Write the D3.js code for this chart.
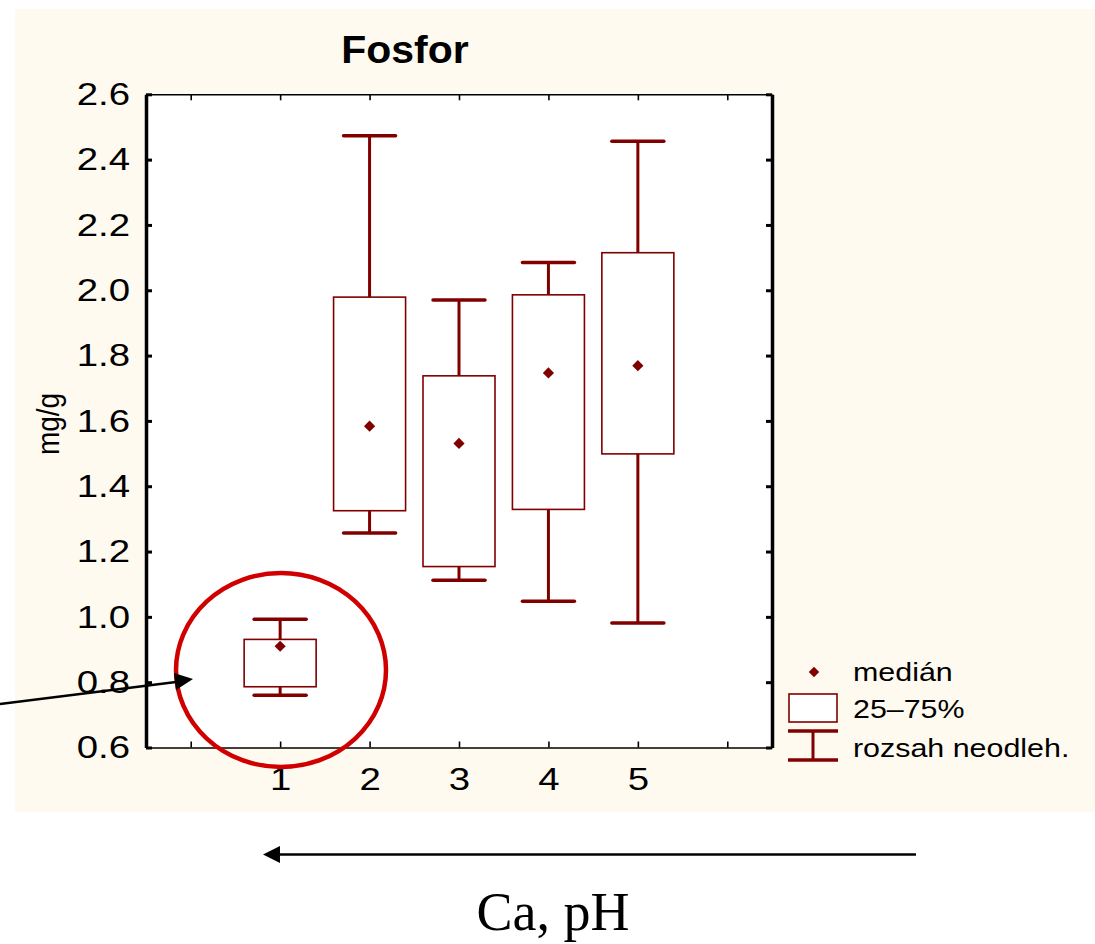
<!DOCTYPE html>
<html>
<head>
<meta charset="utf-8">
<script src="https://cdn.jsdelivr.net/npm/d3@7"></script>
<style>
  html, body { margin: 0; padding: 0; background: #ffffff; }
  svg { display: block; }
</style>
</head>
<body>
<svg id="chart" width="1095" height="944"></svg>
<script>
// ---- data ----
const categories = [1, 2, 3, 4, 5];
const whiskerLow  = [0.760, 1.257, 1.112, 1.048, 0.981];
const q25         = [0.786, 1.325, 1.154, 1.329, 1.499];
const medians     = [0.910, 1.584, 1.531, 1.747, 1.769];
const q75         = [0.931, 1.979, 1.738, 1.986, 2.115];
const whiskerHigh = [0.993, 2.473, 1.970, 2.085, 2.456];
const yTicks = [0.6, 0.8, 1.0, 1.2, 1.4, 1.6, 1.8, 2.0, 2.2, 2.4, 2.6];
const xTicks = [0, 1, 2, 3, 4, 5, 6];
const xTickLabels = ["", "1", "2", "3", "4", "5", ""];
const legendLabels = ["medián", "25–75%", "rozsah neodleh."];
const title = "Fosfor";
const yLabel = "mg/g";
const bottomLabel = "Ca, pH";

// ---- layout ----
const svg = d3.select("#chart");
const dark = "#800000";
const font = "'Liberation Sans', Arial, sans-serif";
const L = 146, R = 772, T = 94.3, B = 747.5;

const x = d3.scaleLinear().domain([-0.5, 6.5]).range([L, R]);
const y = d3.scaleLinear().domain([0.6, 2.6]).range([B, T]);

// horizontal stretch of texts about their anchor x
function stretch(sel, sx) {
  sel.each(function() {
    const t = d3.select(this);
    const x0 = +(t.attr("x") || 0);
    t.attr("transform", `translate(${x0},0) scale(${sx},1) translate(${-x0},0)`);
  });
}

// cream panel
svg.append("rect").attr("x", 15).attr("y", 9).attr("width", 1080).attr("height", 803)
  .attr("fill", "#fffaf0");

// plot area
svg.append("rect").attr("x", L).attr("y", T).attr("width", R - L).attr("height", B - T)
  .attr("fill", "#ffffff");

// title
const tt = svg.append("text").attr("x", 405).attr("y", 63).attr("text-anchor", "middle")
  .attr("font-family", font).attr("font-weight", "bold").attr("font-size", 39)
  .attr("fill", "#000").text(title);
stretch(tt, 1.05);

// axes
const tickFmt = d3.format(".1f");
const gLeft = svg.append("g").attr("transform", `translate(${L},0)`)
  .call(d3.axisLeft(y).tickValues(yTicks).tickSizeInner(-6).tickSizeOuter(0).tickPadding(16).tickFormat(tickFmt));
const gRight = svg.append("g").attr("transform", `translate(${R},0)`)
  .call(d3.axisRight(y).tickValues(yTicks).tickSizeInner(-6).tickSizeOuter(0).tickFormat(""));
const gTop = svg.append("g").attr("transform", `translate(0,${T})`)
  .call(d3.axisTop(x).tickValues(xTicks).tickSizeInner(-6).tickSizeOuter(0).tickFormat(""));
const gBottom = svg.append("g").attr("transform", `translate(0,${B})`)
  .call(d3.axisBottom(x).tickValues(xTicks).tickSizeInner(-6).tickSizeOuter(0).tickPadding(20)
    .tickFormat((d, i) => xTickLabels[i]));

[gLeft, gRight].forEach(g => {
  g.select(".domain").attr("stroke", "#000").attr("stroke-width", 3.5);
  g.selectAll(".tick line").attr("stroke", "#000").attr("stroke-width", 3);
});
[gTop, gBottom].forEach(g => {
  g.select(".domain").attr("stroke", "#000").attr("stroke-width", 1.6);
  g.selectAll(".tick line").attr("stroke", "#000").attr("stroke-width", 1.6);
});
gLeft.selectAll(".tick text").attr("font-family", font).attr("font-size", 32).attr("fill", "#000")
  .call(stretch, 1.2);
gBottom.selectAll(".tick text").attr("font-family", font).attr("font-size", 32).attr("fill", "#000")
  .attr("dy", "0.71em").call(stretch, 1.2);

// y label
svg.append("text").attr("transform", `translate(48,424) rotate(-90) scale(1,1.15)`)
  .attr("text-anchor", "middle").attr("font-family", font).attr("font-size", 28)
  .attr("dy", "0.35em").attr("fill", "#000").text(yLabel);

// boxes
const boxW = 72, capW = 52;
const gBox = svg.append("g");
categories.forEach((c, i) => {
  const cx = x(c);
  gBox.append("line").attr("x1", cx).attr("x2", cx).attr("y1", y(q75[i])).attr("y2", y(whiskerHigh[i]))
    .attr("stroke", dark).attr("stroke-width", 3);
  gBox.append("line").attr("x1", cx).attr("x2", cx).attr("y1", y(q25[i])).attr("y2", y(whiskerLow[i]))
    .attr("stroke", dark).attr("stroke-width", 3);
  gBox.append("line").attr("x1", cx - capW / 2).attr("x2", cx + capW / 2)
    .attr("y1", y(whiskerHigh[i])).attr("y2", y(whiskerHigh[i]))
    .attr("stroke", dark).attr("stroke-width", 3.5).attr("stroke-linecap", "round");
  gBox.append("line").attr("x1", cx - capW / 2).attr("x2", cx + capW / 2)
    .attr("y1", y(whiskerLow[i])).attr("y2", y(whiskerLow[i]))
    .attr("stroke", dark).attr("stroke-width", 3.5).attr("stroke-linecap", "round");
  gBox.append("rect").attr("x", cx - boxW / 2).attr("y", y(q75[i]))
    .attr("width", boxW).attr("height", y(q25[i]) - y(q75[i]))
    .attr("fill", "#ffffff").attr("stroke", dark).attr("stroke-width", 1.6);
  gBox.append("path").attr("d", d3.symbol(d3.symbolDiamond2, 80)())
    .attr("transform", `translate(${cx},${y(medians[i])})`).attr("fill", dark);
});

// legend
const lg = svg.append("g");
lg.append("path").attr("d", d3.symbol(d3.symbolDiamond2, 70)())
  .attr("transform", "translate(814,672)").attr("fill", dark);
lg.append("rect").attr("x", 789).attr("y", 694).attr("width", 48).attr("height", 28)
  .attr("fill", "#ffffff").attr("stroke", dark).attr("stroke-width", 1.6);
lg.append("line").attr("x1", 788).attr("x2", 838).attr("y1", 731).attr("y2", 731)
  .attr("stroke", dark).attr("stroke-width", 3.5);
lg.append("line").attr("x1", 788).attr("x2", 838).attr("y1", 760).attr("y2", 760)
  .attr("stroke", dark).attr("stroke-width", 3.5);
lg.append("line").attr("x1", 813).attr("x2", 813).attr("y1", 731).attr("y2", 760)
  .attr("stroke", dark).attr("stroke-width", 3);
[672, 709, 748].forEach((yy, i) => {
  lg.append("text").attr("x", 853).attr("y", yy).attr("dy", "0.36em")
    .attr("font-family", font).attr("font-size", 26).attr("fill", "#000").text(legendLabels[i])
    .call(stretch, 1.17);
});

// annotations
svg.append("ellipse").attr("cx", 281).attr("cy", 670).attr("rx", 105).attr("ry", 97)
  .attr("fill", "none").attr("stroke", "#d00000").attr("stroke-width", 4.5);

// diagonal arrow
svg.append("line").attr("x1", 0).attr("y1", 704).attr("x2", 176).attr("y2", 682)
  .attr("stroke", "#000").attr("stroke-width", 2.5);
svg.append("path").attr("d", "M193,679 L174,673 L176,690 Z").attr("fill", "#000");

// bottom arrow
svg.append("line").attr("x1", 916).attr("y1", 854.5).attr("x2", 275).attr("y2", 854.5)
  .attr("stroke", "#000").attr("stroke-width", 2.5);
svg.append("path").attr("d", "M263,854.5 L280,846 L280,863 Z").attr("fill", "#000");

svg.append("text").attr("x", 553).attr("y", 930).attr("text-anchor", "middle")
  .attr("font-family", "'Liberation Serif', 'Times New Roman', serif").attr("font-size", 54)
  .attr("fill", "#000").text(bottomLabel);
</script>
</body>
</html>
